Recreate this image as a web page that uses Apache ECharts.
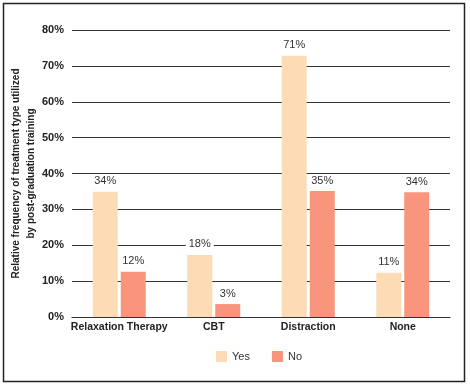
<!DOCTYPE html>
<html>
<head>
<meta charset="utf-8">
<script src="https://cdn.jsdelivr.net/npm/echarts@6/dist/echarts.min.js"></script>
<style>html,body{margin:0;padding:0;background:#fff}#c{width:470px;height:386px}</style>
</head>
<body>
<div id="c"></div>
<script>
var categories = ['Relaxation Therapy', 'CBT', 'Distraction', 'None'];
var yesValues = [34.9, 17.3, 72.8, 12.3];
var noValues = [12.6, 3.6, 35.1, 34.8];
var yesLabels = ['34%', '18%', '71%', '11%'];
var noLabels = ['12%', '3%', '35%', '34%'];
var yTicks = [0, 10, 20, 30, 40, 50, 60, 70, 80];

var FONT = '"Liberation Sans Narrow", "Arial Narrow", "Liberation Sans", Arial, sans-serif';
var chart = echarts.init(document.getElementById('c'), null, {renderer: 'canvas'});
function lbl(arr) {
  return {
    show: true, position: 'top', distance: 4,
    fontFamily: FONT, fontSize: 11, color: '#333',
    backgroundColor: '#fff', padding: [1, 3],
    formatter: function (p) { return arr[p.dataIndex]; }
  };
}
chart.setOption({
  animation: false,
  backgroundColor: '#fff',
  textStyle: {fontFamily: FONT},
  graphic: [{
    type: 'rect', shape: {x: 3.5, y: 3.5, width: 461, height: 378},
    style: {fill: 'none', stroke: '#222', lineWidth: 1.5}, silent: true
  }],
  legend: {
    top: 346, left: 211, itemWidth: 11, itemHeight: 11, itemGap: 22,
    textStyle: {fontFamily: FONT, fontSize: 11, color: '#333'},
    icon: 'rect', data: ['Yes', 'No']
  },
  grid: {left: 72, right: 20, top: 30, bottom: 69, containLabel: false, outerBoundsMode: 'none'},
  xAxis: {
    type: 'category', data: categories,
    axisLine: {show: true, lineStyle: {color: '#333', width: 1.2}},
    axisTick: {show: false},
    axisLabel: {interval: 0, fontFamily: FONT, fontWeight: 'bold', fontSize: 10.5, color: '#222', margin: 5}
  },
  yAxis: {
    type: 'value', min: yTicks[0], max: yTicks[yTicks.length - 1], interval: 10,
    name: 'Relative frequency of treatment type utilized\nby post-graduation training',
    nameLocation: 'middle', nameRotate: 90, nameGap: 33, nameMoveOverlap: false,
    nameTextStyle: {fontFamily: FONT, fontWeight: 'bold', fontSize: 10, color: '#222', lineHeight: 15, align: 'center'},
    axisLine: {show: false}, axisTick: {show: false},
    axisLabel: {fontFamily: FONT, fontWeight: 'bold', fontSize: 11, color: '#222', margin: 8, formatter: '{value}%'},
    splitLine: {lineStyle: {color: '#333', width: 1.2}}
  },
  series: [
    {name: 'Yes', type: 'bar', data: yesValues, barWidth: 25, barGap: '12%',
     itemStyle: {color: '#FDDCB5'}, label: lbl(yesLabels)},
    {name: 'No', type: 'bar', data: noValues, barWidth: 25,
     itemStyle: {color: '#F9957C'}, label: lbl(noLabels)}
  ]
});
</script>
</body>
</html>
